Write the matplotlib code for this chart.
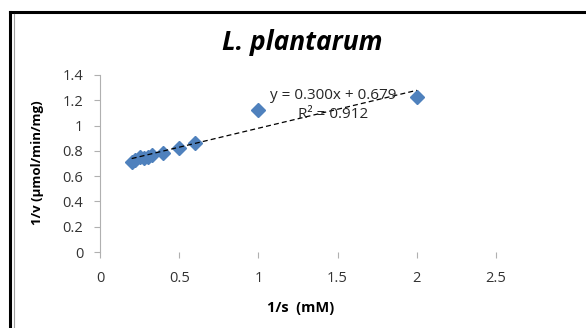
import matplotlib
matplotlib.use('Agg')
import matplotlib.pyplot as plt
from matplotlib.lines import Line2D

plt.rcParams['font.family'] = ['Open Sans', 'DejaVu Sans']

# data
inv_s = [0.2, 0.22, 0.25, 0.28, 0.3, 0.33, 0.4, 0.5, 0.6, 1.0, 2.0]
inv_v = [0.71, 0.73, 0.75, 0.745, 0.755, 0.765, 0.785, 0.82, 0.86, 1.12, 1.225]
slope = 0.300
intercept = 0.679
r2 = 0.912
x_ticks = [0, 0.5, 1, 1.5, 2, 2.5]
y_ticks = [0, 0.2, 0.4, 0.6, 0.8, 1, 1.2, 1.4]

W, H = 586, 328
fig = plt.figure(figsize=(W / 100, H / 100), dpi=100)
ax = fig.add_axes([100 / W, 1 - 252 / H, 396 / W, 177 / H])

ax.plot(inv_s, inv_v, 'D', color='#4F81BD', markersize=7, zorder=3)
xs = [min(inv_s), max(inv_s)]
ax.plot(xs, [slope * x + intercept for x in xs], '--', color='black',
        linewidth=0.9, dashes=(4, 2.5), zorder=4)

ax.text(1.47, 1.234, f'y = {slope:.3f}x + {intercept:.3f}', ha='center',
        va='center', fontsize=11, color='#262626', zorder=5)
ax.text(1.47, 1.084, f'R² = {r2:.3f}', ha='center', va='center',
        fontsize=11, color='#262626', zorder=5)

ax.set_xlim(0, 2.5)
ax.set_ylim(0, 1.4)
ax.set_xticks(x_ticks)
ax.set_xticklabels(['0', '0.5', '1', '1.5', '2', '2.5'])
ax.set_yticks(y_ticks)
ax.set_yticklabels(['0', '0.2', '0.4', '0.6', '0.8', '1', '1.2', '1.4'])
for s in ['top', 'right', 'bottom']:
    ax.spines[s].set_visible(False)
ax.spines['left'].set_color('#b0b0b0')
ax.tick_params(axis='both', colors='#b0b0b0', labelcolor='#333333',
               labelsize=10.5, length=4, width=0.8)
ax.tick_params(axis='x', pad=10)
ax.tick_params(axis='y', pad=8)
ax.set_facecolor('none')

fig.text(302 / W, 1 - 43 / H, 'L. plantarum', ha='center', va='center',
         fontsize=19, fontweight='bold', fontstyle='italic')
fig.text(301 / W, 1 - 308 / H, '1/s  (mM)', ha='center', va='center',
         fontsize=10.5, fontweight='bold')
fig.text(37 / W, 1 - 163 / H, '1/v (µmol/min/mg)', ha='center', va='center',
         fontsize=9.5, fontweight='bold', rotation=90)

# chart border
fig.add_artist(Line2D([10 / W, 10 / W], [0, 1 - 11.5 / H], color='black', lw=2.2))
fig.add_artist(Line2D([10 / W, 1], [1 - 11.5 / H, 1 - 11.5 / H], color='black', lw=2.2))
fig.add_artist(Line2D([14 / W, 14 / W], [0, 1 - 14 / H], color='#a0a0a0', lw=0.8))

fig.savefig('out.png', dpi=100)
